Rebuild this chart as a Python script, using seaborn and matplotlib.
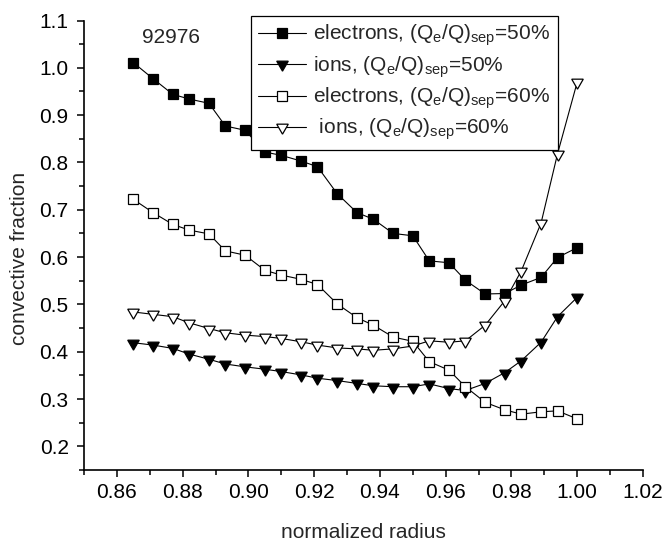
import numpy as np
import pandas as pd
import seaborn as sns
import matplotlib
matplotlib.use("Agg")
import matplotlib.pyplot as plt
from matplotlib.ticker import MultipleLocator, FormatStrFormatter

# ---- data ----
radius = [0.865, 0.871, 0.877, 0.882, 0.888, 0.893, 0.899, 0.905, 0.910, 0.916,
          0.921, 0.927, 0.933, 0.938, 0.944, 0.950, 0.955, 0.961, 0.966, 0.972,
          0.978, 0.983, 0.989, 0.994, 1.000]
electrons_50 = [1.011, 0.977, 0.944, 0.934, 0.925, 0.877, 0.868, 0.822, 0.815, 0.803,
                0.791, 0.734, 0.694, 0.680, 0.650, 0.645, 0.592, 0.588, 0.551, 0.522,
                0.523, 0.541, 0.557, 0.599, 0.620]
ions_50 = [0.419, 0.414, 0.407, 0.395, 0.384, 0.374, 0.368, 0.363, 0.358, 0.351,
           0.344, 0.339, 0.333, 0.328, 0.326, 0.326, 0.332, 0.322, 0.318, 0.333,
           0.356, 0.381, 0.420, 0.474, 0.515]
electrons_60 = [0.722, 0.694, 0.669, 0.657, 0.649, 0.613, 0.604, 0.572, 0.562, 0.553,
                0.542, 0.501, 0.472, 0.456, 0.431, 0.422, 0.379, 0.361, 0.326, 0.293,
                0.277, 0.268, 0.273, 0.275, 0.258]
ions_60 = [0.484, 0.479, 0.474, 0.461, 0.449, 0.440, 0.435, 0.432, 0.428, 0.421,
           0.414, 0.408, 0.406, 0.403, 0.406, 0.412, 0.423, 0.420, 0.423, 0.456,
           0.508, 0.571, 0.672, 0.818, 0.970]

labels = [r"electrons, (Q$_{\rm e}$/Q)$_{\rm sep}$=50%",
          r"ions, (Q$_{\rm e}$/Q)$_{\rm sep}$=50%",
          r"electrons, (Q$_{\rm e}$/Q)$_{\rm sep}$=60%",
          r" ions, (Q$_{\rm e}$/Q)$_{\rm sep}$=60%"]
shot_label = "92976"
x_label = "normalized radius"
y_label = "convective fraction"

sns.set_style("ticks")
plt.rcParams["font.family"] = ["Liberation Sans", "DejaVu Sans"]
plt.rcParams["mathtext.fontset"] = "custom"
plt.rcParams["mathtext.rm"] = "Liberation Sans"
plt.rcParams["mathtext.it"] = "Liberation Sans:italic"

FS = 15
W, H = 668, 546
L, R, T, B = 84, 643, 20.5, 470
fig = plt.figure(figsize=(W / 100, H / 100), dpi=100)
ax = fig.add_axes([L / W, 1 - B / H, (R - L) / W, (B - T) / H])

series = [electrons_50, ions_50, electrons_60, ions_60]
tri = (3, 0, 180)
markers = ["s", tri, "s", tri]
faces = ["black", "black", "white", "white"]
sizes = [7.2, 9.6, 7.2, 9.6]

for vals, lab, mk, fc, ms in zip(series, labels, markers, faces, sizes):
    df = pd.DataFrame({"r": radius, "v": vals})
    sns.lineplot(data=df, x="r", y="v", ax=ax, color="black", linewidth=0.8,
                 marker=mk, markersize=ms, markerfacecolor=fc,
                 markeredgecolor="black", markeredgewidth=0.9, label=lab,
                 legend=False)

ax.set_xlim(0.85, 1.02)
ax.set_ylim(0.15, 1.1)
ax.set_xticks(np.arange(0.86, 1.021, 0.02))
ax.xaxis.set_minor_locator(MultipleLocator(0.01))
ax.set_yticks(np.arange(0.2, 1.101, 0.1))
ax.yaxis.set_minor_locator(MultipleLocator(0.05))
ax.xaxis.set_major_formatter(FormatStrFormatter("%.2f"))
ax.yaxis.set_major_formatter(FormatStrFormatter("%.1f"))

for s in ["top", "right"]:
    ax.spines[s].set_visible(False)
for s in ["left", "bottom"]:
    ax.spines[s].set_linewidth(1.2)
    ax.spines[s].set_color("black")

ax.tick_params(which="major", direction="out", length=5, width=1.1,
               labelsize=FS, colors="black")
ax.tick_params(axis="y", which="major", pad=6)
ax.tick_params(axis="x", which="major", pad=4.5)
ax.tick_params(which="minor", direction="out", length=3.5, width=1.1, colors="black")

ax.set_xlabel(x_label, fontsize=FS)
ax.set_ylabel(y_label, fontsize=FS)
ax.xaxis.set_label_coords(0.5, -(532 - B) / (B - T))
ax.xaxis.label.set_va("center")
ax.yaxis.set_label_coords(-(L - 20) / (R - L), (B - 258.5) / (B - T))
ax.yaxis.label.set_va("center")

ax.text(0.8676, 1.065, shot_label, fontsize=FS, ha="left", va="center")

handles, labs = ax.get_legend_handles_labels()
leg = ax.legend(handles, labs, loc="upper left",
                bbox_to_anchor=((250.7 - L) / (R - L), (B - 15.7) / (B - T)),
                borderaxespad=0, frameon=True, fancybox=False, fontsize=FS,
                handlelength=2.3, handletextpad=0.36, labelspacing=0.28,
                borderpad=0.35, numpoints=1)
leg.get_frame().set_edgecolor("black")
leg.get_frame().set_linewidth(0.9)
leg.get_frame().set_alpha(1)

fig.savefig("out.png", dpi=100)
